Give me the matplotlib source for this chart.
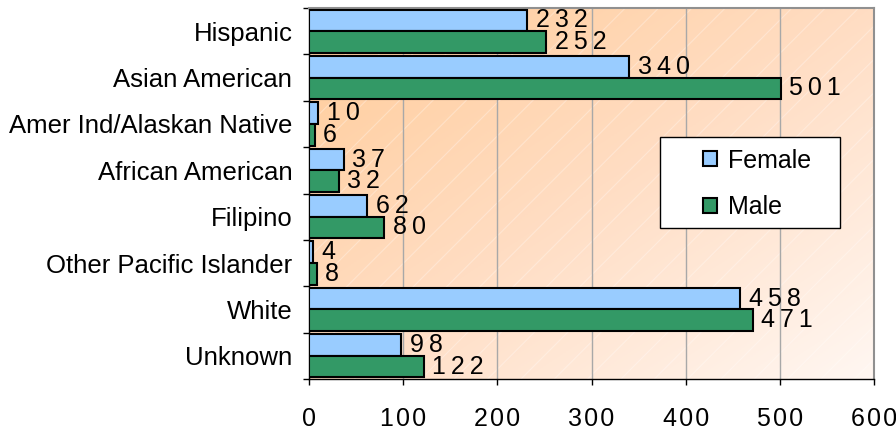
import numpy as np
import matplotlib
matplotlib.use("Agg")
import matplotlib.pyplot as plt
from matplotlib.patches import Patch, Rectangle
from matplotlib.colors import LinearSegmentedColormap

categories = ["Hispanic", "Asian American", "Amer Ind/Alaskan Native", "African American",
              "Filipino", "Other Pacific Islander", "White", "Unknown"]
female = [232, 340, 10, 37, 62, 4, 458, 98]
male = [252, 501, 6, 32, 80, 8, 471, 122]
xticks = [0, 100, 200, 300, 400, 500, 600]
xtick_labels = ["0", "100", "200", "300", "400", "500", "600"]

plt.rcParams['font.family'] = ['Liberation Sans', 'DejaVu Sans']
plt.rcParams['hatch.linewidth'] = 0.8
FS = 18

fig = plt.figure(figsize=(8.96, 4.30), dpi=100)
ax = fig.add_axes([309/896, 1-379/430, (874-309)/896, (379-8)/430])

# gradient background
gx, gy = np.meshgrid(np.linspace(0, 1, 200), np.linspace(0, 1, 200))
t = np.clip((gx + gy) / 2.0, 0, 1)  # 0 at top-left, 1 at bottom-right
cmap = LinearSegmentedColormap.from_list("bg", ["#FFCC99", "#FFDDC3", "#FFF7F2"])
ax.imshow(t, cmap=cmap, extent=(0, 1, 0, 1), transform=ax.transAxes,
          aspect='auto', zorder=0, origin='upper', vmin=0, vmax=1)
ax.add_patch(Rectangle((0, 0), 1, 1, transform=ax.transAxes, facecolor="none",
                       edgecolor=(1, 1, 1, 0.3), hatch='/', linewidth=0, zorder=0.5))

y = np.arange(len(categories))
h = 0.465
ax.barh(y - h/2, female, height=h, color="#99CCFF", edgecolor="black", linewidth=1.5, zorder=3, label="Female")
ax.barh(y + h/2, male, height=h, color="#339966", edgecolor="black", linewidth=1.5, zorder=3, label="Male")

def spaced(v, sep="\u2009"):
    return sep.join(str(v))

for yi, v in zip(y - h/2, female):
    ax.annotate(spaced(v), (v, yi), xytext=(6, 0), textcoords="offset points",
                ha="left", va="center", fontsize=FS, zorder=4)
for yi, v in zip(y + h/2, male):
    ax.annotate(spaced(v), (v, yi), xytext=(6, 0), textcoords="offset points",
                ha="left", va="center", fontsize=FS, zorder=4)

ax.set_xlim(0, 600)
ax.set_ylim(len(categories) - 0.5, -0.5)
ax.set_xticks(xticks)
ax.set_xticklabels([spaced(s, "\u200a") for s in xtick_labels], fontsize=FS)
ax.grid(axis='x', color="#A8A8A8", linewidth=1.0, zorder=1)
ax.set_axisbelow(True)

ax.set_yticks(np.arange(len(categories) + 1) - 0.5)
ax.set_yticklabels([])
ax.set_yticks(y, minor=True)
ax.set_yticklabels(categories, minor=True, fontsize=18.5)
ax.tick_params(axis='y', which='minor', length=0, pad=12)
ax.tick_params(axis='y', which='major', length=4, width=1, direction='out')
ax.tick_params(axis='x', length=4, width=1, direction='out', pad=16)

for s in ['top', 'right']:
    ax.spines[s].set_color("#909090")
    ax.spines[s].set_linewidth(1.5)
for s in ['left', 'bottom']:
    ax.spines[s].set_color("black")
    ax.spines[s].set_linewidth(1.0)

# legend frame drawn manually (Excel-style wide left padding)
x0 = (660 - 309) / 565
x1 = (840 - 309) / 565
y0 = (379 - 228) / 371
y1 = (379 - 137) / 371
ax.add_patch(Rectangle((x0, y0), x1 - x0, y1 - y0, transform=ax.transAxes,
                       facecolor="white", edgecolor="black", linewidth=1.0, zorder=5))

handles = [Patch(facecolor="#99CCFF", edgecolor="black", linewidth=1.5, label="Female"),
           Patch(facecolor="#339966", edgecolor="black", linewidth=1.5, label="Male")]
leg = ax.legend(handles=handles, loc="center left",
                bbox_to_anchor=((703 - 309) / 565, (379 - 184) / 371),
                fontsize=FS, frameon=False,
                handlelength=0.55, handleheight=0.55, handletextpad=0.45,
                labelspacing=0.9, borderpad=0, borderaxespad=0)
leg.set_zorder(6)

fig.savefig("out.png", dpi=100)
